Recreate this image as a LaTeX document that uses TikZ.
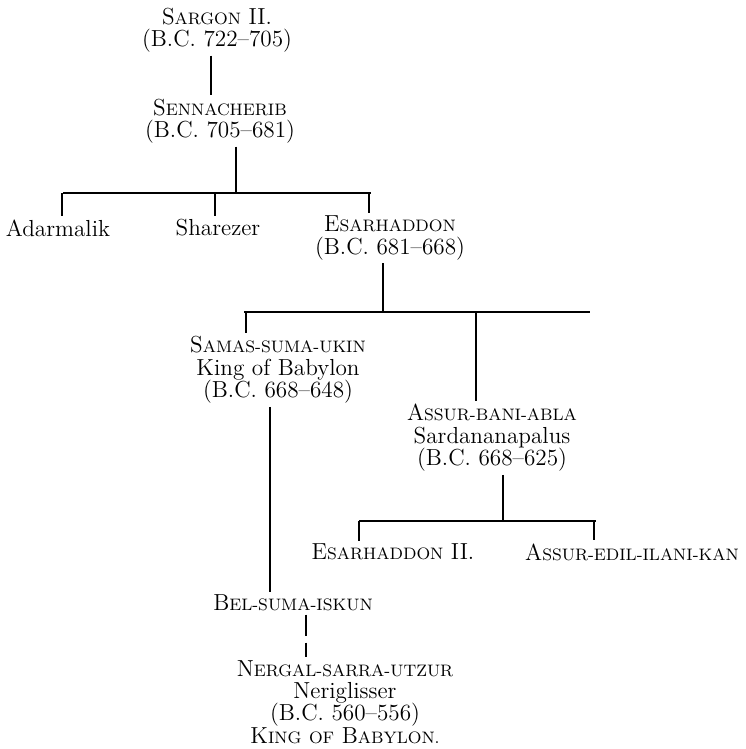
\documentclass[tikz,border=0pt]{standalone}
\newcommand\sk[2]{#1{\fontsize{8.3}{8}\selectfont\MakeUppercase{#2}}}
\begin{document}
\begin{tikzpicture}[x=0.5pt,y=-0.5pt,
  lbl/.style={align=center,inner sep=1.5pt,font=\fontsize{11.6}{11.2}\selectfont},
  conn/.style={line width=0.6pt},
  uncertain/.style={conn,dash pattern=on 10.5pt off 3.5pt}]
\useasboundingbox (0,0) rectangle (745,749);
% people
\node[lbl] (sargon) at (217,30) {\sk{S}{argon} II.\\(B.C. 722–705)};
\node[lbl] (senn) at (220,121) {\sk{S}{ennacherib}\\(B.C. 705–681)};
\node[lbl] (adar) at (58,228) {Adarmalik};
\node[lbl] (share) at (218,228) {Sharezer};
\node[lbl] (esar) at (390,238) {\sk{E}{sarhaddon}\\(B.C. 681–668)};
\node[lbl] (samas) at (278,370) {\sk{S}{amas-suma-ukin}\\King of Babylon\\(B.C. 668–648)};
\node[lbl] (assur) at (492,438) {\sk{A}{ssur-bani-abla}\\Sardananapalus\\(B.C. 668–625)};
\node[lbl] (esartwo) at (393,552) {\sk{E}{sarhaddon} II.};
\node[lbl] (assured) at (632,552) {\sk{A}{ssur-edil-ilani-kan}};
\node[lbl] (bel) at (293,603) {\sk{B}{el-suma-iskun}};
\node[lbl] (nergal) at (345,702) {\sk{N}{ergal-sarra-utzur}\\Neriglisser\\(B.C. 560–556)\\\sk{K}{ing} \sk{}{of} \sk{B}{abylon.}};
% bus coordinates
\coordinate (busA) at (236,193);
\coordinate (busAl) at (63,193);
\coordinate (busAr) at (371,193);
\coordinate (busB) at (383,312);
\coordinate (busBl) at (244,312);
\coordinate (busBr) at (590,312);
\coordinate (busC) at (503,521);
\coordinate (busCl) at (359,521);
\coordinate (busCr) at (596,521);
% connectors
\draw[conn] (sargon.south -| 211,0) -- (senn.north -| 211,0);
\draw[conn] (senn.south -| busA) -- (busA);
\draw[conn] (busAl) -- (busAr);
\draw[conn] (62,193) -- (adar.north -| 62,0);
\draw[conn] (215,193) -- (share.north -| 215,0);
\draw[conn] (369,193) -- (esar.north -| 369,0);
\draw[conn] (esar.south -| busB) -- (busB);
\draw[conn] (busBl) -- (busBr);
\draw[conn] (246,312) -- (samas.north -| 246,0);
\draw[conn] (476,312) -- (assur.north -| 476,0);
\draw[conn] (samas.south -| 270,0) -- (bel.north -| 270,0);
\draw[conn] (assur.south -| busC) -- (busC);
\draw[conn] (busCl) -- (busCr);
\draw[conn] (359,521) -- (esartwo.north -| 359,0);
\draw[conn] (594,521) -- (assured.north -| 594,0);
\draw[uncertain] (bel.south -| 306,0) -- (nergal.north -| 306,0);
\end{tikzpicture}
\end{document}
